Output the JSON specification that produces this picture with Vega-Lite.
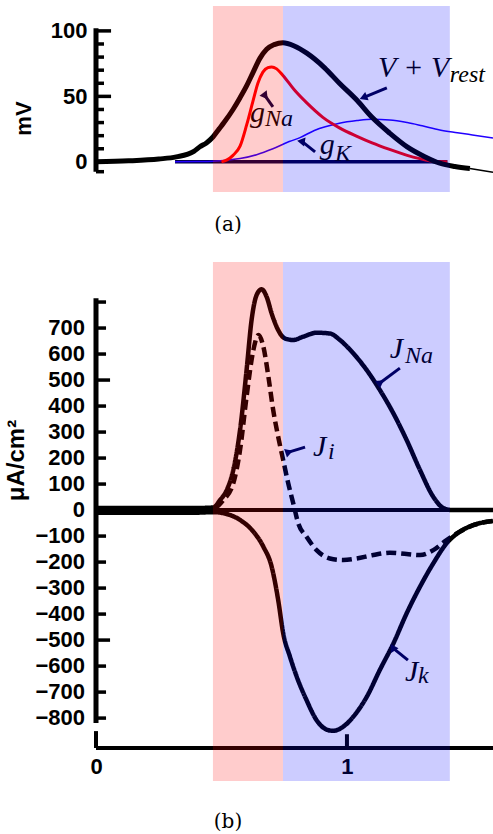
{
  "$schema": "https://vega.github.io/schema/vega-lite/v6.json",
  "autosize": {"type": "pad"},
  "padding": {"left": 4, "top": 6, "right": 0, "bottom": 0},
  "bounds": "flush",
  "spacing": 70,
  "background": "white",
  "config": {
    "view": {"stroke": null},
    "axis": {"grid": false, "labelColor": "black", "titleColor": "black", "labelFont": "Liberation Sans", "labelFontWeight": "bold", "labelFontSize": 22, "titleFont": "Liberation Sans", "titleFontWeight": "bold", "titleFontSize": 22}
  },
  "datasets": {
    "top": [
      {"series": "V", "x": 0, "y": 0}, {"series": "V", "x": 0.13, "y": 0.8}, {"series": "V", "x": 0.25, "y": 2.2}, {"series": "V", "x": 0.32, "y": 3.8}, {"series": "V", "x": 0.39, "y": 8}, {"series": "V", "x": 0.414, "y": 11.5}, {"series": "V", "x": 0.44, "y": 14.5}, {"series": "V", "x": 0.466, "y": 19}, {"series": "V", "x": 0.49, "y": 25}, {"series": "V", "x": 0.51, "y": 30}, {"series": "V", "x": 0.546, "y": 40}, {"series": "V", "x": 0.574, "y": 49}, {"series": "V", "x": 0.6, "y": 58}, {"series": "V", "x": 0.625, "y": 68}, {"series": "V", "x": 0.653, "y": 79}, {"series": "V", "x": 0.68, "y": 86}, {"series": "V", "x": 0.71, "y": 89.5}, {"series": "V", "x": 0.745, "y": 91}, {"series": "V", "x": 0.79, "y": 88.5}, {"series": "V", "x": 0.84, "y": 83}, {"series": "V", "x": 0.91, "y": 72}, {"series": "V", "x": 0.97, "y": 60}, {"series": "V", "x": 1.04, "y": 47}, {"series": "V", "x": 1.1, "y": 34}, {"series": "V", "x": 1.17, "y": 22}, {"series": "V", "x": 1.24, "y": 11.5}, {"series": "V", "x": 1.31, "y": 4}, {"series": "V", "x": 1.37, "y": -1}, {"series": "V", "x": 1.43, "y": -3.5}, {"series": "V", "x": 1.49, "y": -5},
      {"series": "Vtail", "x": 1.49, "y": -5}, {"series": "Vtail", "x": 1.582, "y": -8},
      {"series": "gNa", "x": 0.5, "y": 0}, {"series": "gNa", "x": 0.522, "y": 1.5}, {"series": "gNa", "x": 0.546, "y": 5}, {"series": "gNa", "x": 0.574, "y": 12}, {"series": "gNa", "x": 0.6, "y": 28}, {"series": "gNa", "x": 0.625, "y": 46}, {"series": "gNa", "x": 0.645, "y": 60}, {"series": "gNa", "x": 0.665, "y": 68.5}, {"series": "gNa", "x": 0.685, "y": 72}, {"series": "gNa", "x": 0.7, "y": 72.5}, {"series": "gNa", "x": 0.72, "y": 71}, {"series": "gNa", "x": 0.745, "y": 66}, {"series": "gNa", "x": 0.79, "y": 55}, {"series": "gNa", "x": 0.84, "y": 45}, {"series": "gNa", "x": 0.904, "y": 34}, {"series": "gNa", "x": 0.97, "y": 26}, {"series": "gNa", "x": 1.04, "y": 19.5}, {"series": "gNa", "x": 1.1, "y": 14.5}, {"series": "gNa", "x": 1.17, "y": 9.5}, {"series": "gNa", "x": 1.24, "y": 5}, {"series": "gNa", "x": 1.29, "y": 2.5}, {"series": "gNa", "x": 1.34, "y": 0.5}, {"series": "gNa", "x": 1.4, "y": 0},
      {"series": "gK", "x": 0.315, "y": 0}, {"series": "gK", "x": 0.4, "y": 0.2}, {"series": "gK", "x": 0.466, "y": 0.5}, {"series": "gK", "x": 0.52, "y": 1.2}, {"series": "gK", "x": 0.574, "y": 2.5}, {"series": "gK", "x": 0.64, "y": 5.5}, {"series": "gK", "x": 0.705, "y": 10}, {"series": "gK", "x": 0.77, "y": 15.5}, {"series": "gK", "x": 0.813, "y": 18.5}, {"series": "gK", "x": 0.87, "y": 24}, {"series": "gK", "x": 0.97, "y": 29.5}, {"series": "gK", "x": 1.04, "y": 31.5}, {"series": "gK", "x": 1.1, "y": 32.5}, {"series": "gK", "x": 1.17, "y": 32}, {"series": "gK", "x": 1.24, "y": 30}, {"series": "gK", "x": 1.3, "y": 27.5}, {"series": "gK", "x": 1.37, "y": 24.4}, {"series": "gK", "x": 1.44, "y": 22.3}, {"series": "gK", "x": 1.5, "y": 20.6}, {"series": "gK", "x": 1.582, "y": 18.3}
    ],
    "bottom": [
      {"series": "J_Na", "x": 0, "y": 8}, {"series": "J_Na", "x": 0.2, "y": 8}, {"series": "J_Na", "x": 0.4, "y": 8}, {"series": "J_Na", "x": 0.467, "y": 10}, {"series": "J_Na", "x": 0.494, "y": 38}, {"series": "J_Na", "x": 0.521, "y": 77}, {"series": "J_Na", "x": 0.547, "y": 154}, {"series": "J_Na", "x": 0.574, "y": 308}, {"series": "J_Na", "x": 0.6, "y": 538}, {"series": "J_Na", "x": 0.62, "y": 731}, {"series": "J_Na", "x": 0.64, "y": 827}, {"series": "J_Na", "x": 0.66, "y": 849}, {"series": "J_Na", "x": 0.68, "y": 820}, {"series": "J_Na", "x": 0.7, "y": 756}, {"series": "J_Na", "x": 0.726, "y": 692}, {"series": "J_Na", "x": 0.753, "y": 660}, {"series": "J_Na", "x": 0.786, "y": 654}, {"series": "J_Na", "x": 0.826, "y": 667}, {"series": "J_Na", "x": 0.879, "y": 682}, {"series": "J_Na", "x": 0.932, "y": 679}, {"series": "J_Na", "x": 0.972, "y": 654}, {"series": "J_Na", "x": 1.025, "y": 603}, {"series": "J_Na", "x": 1.079, "y": 538}, {"series": "J_Na", "x": 1.131, "y": 462}, {"series": "J_Na", "x": 1.185, "y": 372}, {"series": "J_Na", "x": 1.238, "y": 269}, {"series": "J_Na", "x": 1.291, "y": 154}, {"series": "J_Na", "x": 1.344, "y": 51}, {"series": "J_Na", "x": 1.384, "y": 8}, {"series": "J_Na", "x": 1.42, "y": 0}, {"series": "J_Na", "x": 1.582, "y": 0},
      {"series": "J_i", "x": 0, "y": 0}, {"series": "J_i", "x": 0.2, "y": 0}, {"series": "J_i", "x": 0.4, "y": 2}, {"series": "J_i", "x": 0.467, "y": 6}, {"series": "J_i", "x": 0.507, "y": 38}, {"series": "J_i", "x": 0.547, "y": 103}, {"series": "J_i", "x": 0.574, "y": 231}, {"series": "J_i", "x": 0.6, "y": 436}, {"series": "J_i", "x": 0.627, "y": 615}, {"series": "J_i", "x": 0.647, "y": 673}, {"series": "J_i", "x": 0.667, "y": 628}, {"series": "J_i", "x": 0.687, "y": 513}, {"series": "J_i", "x": 0.706, "y": 385}, {"series": "J_i", "x": 0.726, "y": 282}, {"series": "J_i", "x": 0.746, "y": 192}, {"series": "J_i", "x": 0.766, "y": 103}, {"series": "J_i", "x": 0.786, "y": 26}, {"series": "J_i", "x": 0.806, "y": -51}, {"series": "J_i", "x": 0.839, "y": -103}, {"series": "J_i", "x": 0.879, "y": -154}, {"series": "J_i", "x": 0.932, "y": -186}, {"series": "J_i", "x": 0.985, "y": -192}, {"series": "J_i", "x": 1.039, "y": -186}, {"series": "J_i", "x": 1.105, "y": -173}, {"series": "J_i", "x": 1.171, "y": -164}, {"series": "J_i", "x": 1.238, "y": -169}, {"series": "J_i", "x": 1.291, "y": -173}, {"series": "J_i", "x": 1.344, "y": -154}, {"series": "J_i", "x": 1.397, "y": -115}, {"series": "J_i", "x": 1.45, "y": -83}, {"series": "J_i", "x": 1.503, "y": -58}, {"series": "J_i", "x": 1.582, "y": -42},
      {"series": "J_k", "x": 0, "y": -10}, {"series": "J_k", "x": 0.2, "y": -10}, {"series": "J_k", "x": 0.4, "y": -10}, {"series": "J_k", "x": 0.467, "y": -8}, {"series": "J_k", "x": 0.521, "y": -15}, {"series": "J_k", "x": 0.574, "y": -38}, {"series": "J_k", "x": 0.627, "y": -83}, {"series": "J_k", "x": 0.667, "y": -141}, {"series": "J_k", "x": 0.7, "y": -218}, {"series": "J_k", "x": 0.726, "y": -346}, {"series": "J_k", "x": 0.746, "y": -474}, {"series": "J_k", "x": 0.773, "y": -564}, {"series": "J_k", "x": 0.8, "y": -641}, {"series": "J_k", "x": 0.839, "y": -731}, {"series": "J_k", "x": 0.879, "y": -808}, {"series": "J_k", "x": 0.919, "y": -844}, {"series": "J_k", "x": 0.945, "y": -849}, {"series": "J_k", "x": 0.985, "y": -833}, {"series": "J_k", "x": 1.025, "y": -795}, {"series": "J_k", "x": 1.079, "y": -718}, {"series": "J_k", "x": 1.131, "y": -615}, {"series": "J_k", "x": 1.185, "y": -513}, {"series": "J_k", "x": 1.238, "y": -397}, {"series": "J_k", "x": 1.291, "y": -295}, {"series": "J_k", "x": 1.344, "y": -205}, {"series": "J_k", "x": 1.397, "y": -128}, {"series": "J_k", "x": 1.45, "y": -83}, {"series": "J_k", "x": 1.503, "y": -58}, {"series": "J_k", "x": 1.582, "y": -42}
    ],
    "phases": [
      {"phase": "rise", "start": 0.466, "end": 0.745},
      {"phase": "fall", "start": 0.745, "end": 1.41}
    ],
    "arrows": [
      {"name": "V", "x": 1.159, "y": 56.5, "x2": 1.07, "y2": 49.5},
      {"name": "gNa", "x": 0.705, "y": 42, "x2": 0.672, "y2": 51},
      {"name": "gK", "x": 0.873, "y": 7.6, "x2": 0.822, "y2": 15.5},
      {"name": "JNa", "x": 1.211, "y": 546, "x2": 1.13, "y2": 488},
      {"name": "Ji", "x": 0.833, "y": 242, "x2": 0.765, "y2": 222},
      {"name": "Jk", "x": 1.243, "y": -577, "x2": 1.185, "y2": -532}
    ],
    "ylabels": [
      {"v": 700}, {"v": 600}, {"v": 500}, {"v": 400}, {"v": 300}, {"v": 200}, {"v": 100}, {"v": 0},
      {"v": -100}, {"v": -200}, {"v": -300}, {"v": -400}, {"v": -500}, {"v": -600}, {"v": -700}, {"v": -800}
    ]
  },
  "vconcat": [
    {
      "width": 397,
      "height": 186,
      "layer": [
        {
          "data": {"values": [{}]},
          "mark": {"type": "rule", "color": "black", "strokeWidth": 5},
          "encoding": {
            "x": {"datum": 0, "type": "quantitative", "scale": {"domain": [0, 1.582], "nice": false, "zero": false}, "axis": null},
            "y": {"datum": -7.5, "type": "quantitative", "scale": {"domain": [-23, 119], "nice": false, "zero": false},
              "axis": {"values": [0, 50, 100], "domain": false, "ticks": false, "labelPadding": 9, "title": "mV", "titleX": -73, "titleY": 112, "titleAlign": "center", "titleBaseline": "middle", "titleAngle": -90}},
            "y2": {"datum": 102}
          }
        },
        {
          "data": {"values": [{"v": 90}, {"v": 80}, {"v": 70}, {"v": 60}, {"v": 40}, {"v": 30}, {"v": 20}, {"v": 10}, {"v": 0}, {"v": -7.5}]},
          "mark": {"type": "rule", "color": "black", "strokeWidth": 3.5},
          "encoding": {"y": {"field": "v", "type": "quantitative"}, "x": {"datum": 0}, "x2": {"datum": 0.032}}
        },
        {
          "data": {"values": [{"v": 100}, {"v": 50}]},
          "mark": {"type": "rule", "color": "black", "strokeWidth": 3.5},
          "encoding": {"y": {"field": "v", "type": "quantitative"}, "x": {"datum": 0}, "x2": {"datum": 0.06}}
        },
        {
          "data": {"values": [{}]},
          "mark": {"type": "rule", "color": "#000040", "strokeWidth": 3.5},
          "encoding": {"x": {"datum": 0.315}, "x2": {"datum": 1.4}, "y": {"datum": 0}}
        },
        {
          "data": {"name": "top"},
          "transform": [{"filter": "datum.series == 'gK'"}],
          "mark": {"type": "line", "interpolate": "monotone", "color": "#2200ff", "strokeWidth": 1.5},
          "encoding": {"x": {"field": "x", "type": "quantitative"}, "y": {"field": "y", "type": "quantitative"}}
        },
        {
          "data": {"name": "top"},
          "transform": [{"filter": "datum.series == 'gNa'"}],
          "mark": {"type": "line", "interpolate": "monotone", "color": "#ff0000", "strokeWidth": 3},
          "encoding": {"x": {"field": "x", "type": "quantitative"}, "y": {"field": "y", "type": "quantitative"}}
        },
        {
          "data": {"name": "top"},
          "transform": [{"filter": "datum.series == 'V'"}],
          "mark": {"type": "line", "interpolate": "monotone", "color": "black", "strokeWidth": 5},
          "encoding": {"x": {"field": "x", "type": "quantitative"}, "y": {"field": "y", "type": "quantitative"}}
        },
        {
          "data": {"name": "top"},
          "transform": [{"filter": "datum.series == 'Vtail'"}],
          "mark": {"type": "line", "color": "black", "strokeWidth": 1.5},
          "encoding": {"x": {"field": "x", "type": "quantitative"}, "y": {"field": "y", "type": "quantitative"}}
        },
        {
          "data": {"name": "arrows"},
          "transform": [{"filter": "indexof(['V','gNa','gK'], datum.name) >= 0"}],
          "layer": [
            {"mark": {"type": "rule", "color": "#000040", "strokeWidth": 3},
             "encoding": {"x": {"field": "x", "type": "quantitative"}, "y": {"field": "y", "type": "quantitative"}, "x2": {"field": "x2"}, "y2": {"field": "y2"}}},
            {"mark": {"type": "point", "shape": "triangle", "filled": true, "color": "#000040", "size": 80, "opacity": 1},
             "encoding": {"x": {"field": "x2", "type": "quantitative"}, "y": {"field": "y2", "type": "quantitative"},
               "angle": {"field": "name", "type": "nominal", "scale": {"domain": ["V", "gNa", "gK", "JNa", "Ji", "Jk"], "range": [248, 327, 309, 233, 253, 309]}, "legend": null}}}
          ]
        },
        {
          "data": {"values": [{"t": "V + V", "x": 1.124, "y": 64.9}, {"t": "g", "x": 0.614, "y": 30.5}, {"t": "g", "x": 0.892, "y": 6.1}]},
          "mark": {"type": "text", "font": "Liberation Serif", "fontStyle": "italic", "fontSize": 30, "align": "left", "baseline": "alphabetic", "color": "black"},
          "encoding": {"x": {"field": "x", "type": "quantitative"}, "y": {"field": "y", "type": "quantitative"}, "text": {"field": "t"}}
        },
        {
          "data": {"values": [{"t": "rest", "x": 1.41, "y": 61}, {"t": "Na", "x": 0.673, "y": 27.5}, {"t": "K", "x": 0.952, "y": 0.8}]},
          "mark": {"type": "text", "font": "Liberation Serif", "fontStyle": "italic", "fontSize": 24, "align": "left", "baseline": "alphabetic", "color": "black"},
          "encoding": {"x": {"field": "x", "type": "quantitative"}, "y": {"field": "y", "type": "quantitative"}, "text": {"field": "t"}}
        },
        {
          "data": {"values": [{"t": "(a)", "x": 0.526, "y": -53}]},
          "mark": {"type": "text", "font": "DejaVu Serif", "fontSize": 20, "align": "center", "baseline": "alphabetic", "color": "black"},
          "encoding": {"x": {"field": "x", "type": "quantitative"}, "y": {"field": "y", "type": "quantitative"}, "text": {"field": "t"}}
        },
        {
          "data": {"name": "phases"},
          "mark": {"type": "rect", "opacity": 0.2},
          "encoding": {
            "x": {"field": "start", "type": "quantitative"},
            "x2": {"field": "end"},
            "fill": {"field": "phase", "type": "nominal", "scale": {"domain": ["rise", "fall"], "range": ["#ff0000", "#0000ff"]}, "legend": null}
          }
        }
      ]
    },
    {
      "width": 397,
      "height": 486,
      "layer": [
        {
          "data": {"values": [{}]},
          "mark": {"type": "rule", "color": "black", "strokeWidth": 5},
          "encoding": {
            "x": {"datum": 0, "type": "quantitative", "scale": {"domain": [0, 1.582], "nice": false, "zero": false},
              "axis": {"values": [0, 1], "format": "d", "domain": false, "ticks": false, "labelPadding": 8, "labelFlush": false, "title": null}},
            "y": {"datum": -819, "type": "quantitative", "scale": {"domain": [-915, 954], "nice": false, "zero": false},
              "axis": {"labels": false, "domain": false, "ticks": false, "title": "μA/cm²", "titleX": -80, "titleY": 198, "titleAlign": "center", "titleBaseline": "middle", "titleAngle": -90, "titleFontSize": 24}},
            "y2": {"datum": 815}
          }
        },
        {
          "data": {"name": "ylabels"},
          "mark": {"type": "text", "font": "Liberation Sans", "fontWeight": "bold", "fontSize": 22, "align": "right", "baseline": "middle", "dx": -11, "color": "black"},
          "encoding": {"x": {"datum": 0}, "y": {"field": "v", "type": "quantitative"}, "text": {"field": "v", "type": "quantitative", "format": "d"}}
        },
        {
          "data": {"values": [{}]},
          "mark": {"type": "rule", "color": "black", "strokeWidth": 4},
          "encoding": {"x": {"datum": 0}, "y": {"datum": -915}, "y2": {"datum": -850}}
        },
        {
          "data": {"values": [{}]},
          "mark": {"type": "rule", "color": "black", "strokeWidth": 4},
          "encoding": {"x": {"datum": 1}, "y": {"datum": -915}, "y2": {"datum": -862}}
        },
        {
          "data": {"values": [{}]},
          "mark": {"type": "rule", "color": "black", "strokeWidth": 4},
          "encoding": {"x": {"datum": 0}, "x2": {"datum": 1.582}, "y": {"datum": -915}}
        },
        {
          "data": {"values": [{"v": 800}, {"v": 700}, {"v": 600}, {"v": 400}, {"v": 300}, {"v": 200}, {"v": 100}, {"v": -100}, {"v": -200}, {"v": -300}, {"v": -400}, {"v": -600}, {"v": -700}, {"v": -800}]},
          "mark": {"type": "rule", "color": "black", "strokeWidth": 3.5},
          "encoding": {"y": {"field": "v", "type": "quantitative"}, "x": {"datum": 0}, "x2": {"datum": 0.04}}
        },
        {
          "data": {"values": [{"v": 500}, {"v": -500}]},
          "mark": {"type": "rule", "color": "black", "strokeWidth": 3.5},
          "encoding": {"y": {"field": "v", "type": "quantitative"}, "x": {"datum": 0}, "x2": {"datum": 0.056}}
        },
        {
          "data": {"values": [{}]},
          "mark": {"type": "rule", "color": "black", "strokeWidth": 4},
          "encoding": {"x": {"datum": 0}, "x2": {"datum": 1.582}, "y": {"datum": 0}}
        },
        {
          "data": {"name": "bottom"},
          "mark": {"type": "line", "interpolate": "monotone", "color": "black", "strokeWidth": 4.5},
          "encoding": {
            "x": {"field": "x", "type": "quantitative"},
            "y": {"field": "y", "type": "quantitative"},
            "detail": {"field": "series"},
            "strokeDash": {"field": "series", "type": "nominal", "scale": {"domain": ["J_Na", "J_i", "J_k"], "range": [[1, 0], [10, 5], [1, 0]]}, "legend": null},
            "order": {"field": "x", "type": "quantitative"}
          }
        },
        {
          "data": {"name": "arrows"},
          "transform": [{"filter": "indexof(['JNa','Ji','Jk'], datum.name) >= 0"}],
          "layer": [
            {"mark": {"type": "rule", "color": "#000040", "strokeWidth": 3},
             "encoding": {"x": {"field": "x", "type": "quantitative"}, "y": {"field": "y", "type": "quantitative"}, "x2": {"field": "x2"}, "y2": {"field": "y2"}}},
            {"mark": {"type": "point", "shape": "triangle", "filled": true, "color": "#000040", "size": 80, "opacity": 1},
             "encoding": {"x": {"field": "x2", "type": "quantitative"}, "y": {"field": "y2", "type": "quantitative"},
               "angle": {"field": "name", "type": "nominal", "scale": {"domain": ["V", "gNa", "gK", "JNa", "Ji", "Jk"], "range": [248, 327, 309, 233, 253, 309]}, "legend": null}}}
          ]
        },
        {
          "data": {"values": [{"t": "J", "x": 1.171, "y": 585}, {"t": "J", "x": 0.865, "y": 208}, {"t": "J", "x": 1.231, "y": -658}]},
          "mark": {"type": "text", "font": "Liberation Serif", "fontStyle": "italic", "fontSize": 30, "align": "left", "baseline": "alphabetic", "color": "black"},
          "encoding": {"x": {"field": "x", "type": "quantitative"}, "y": {"field": "y", "type": "quantitative"}, "text": {"field": "t"}}
        },
        {
          "data": {"values": [{"t": "Na", "x": 1.231, "y": 565}, {"t": "i", "x": 0.924, "y": 196}, {"t": "k", "x": 1.283, "y": -665}]},
          "mark": {"type": "text", "font": "Liberation Serif", "fontStyle": "italic", "fontSize": 24, "align": "left", "baseline": "alphabetic", "color": "black"},
          "encoding": {"x": {"field": "x", "type": "quantitative"}, "y": {"field": "y", "type": "quantitative"}, "text": {"field": "t"}}
        },
        {
          "data": {"values": [{"t": "(b)", "x": 0.526, "y": -1223}]},
          "mark": {"type": "text", "font": "DejaVu Serif", "fontSize": 20, "align": "center", "baseline": "alphabetic", "color": "black"},
          "encoding": {"x": {"field": "x", "type": "quantitative"}, "y": {"field": "y", "type": "quantitative"}, "text": {"field": "t"}}
        },
        {
          "data": {"name": "phases"},
          "mark": {"type": "rect", "opacity": 0.2},
          "encoding": {
            "x": {"field": "start", "type": "quantitative"},
            "x2": {"field": "end"},
            "y": {"datum": 954},
            "y2": {"datum": -1042},
            "fill": {"field": "phase", "type": "nominal", "scale": {"domain": ["rise", "fall"], "range": ["#ff0000", "#0000ff"]}, "legend": null}
          }
        }
      ]
    }
  ]
}
